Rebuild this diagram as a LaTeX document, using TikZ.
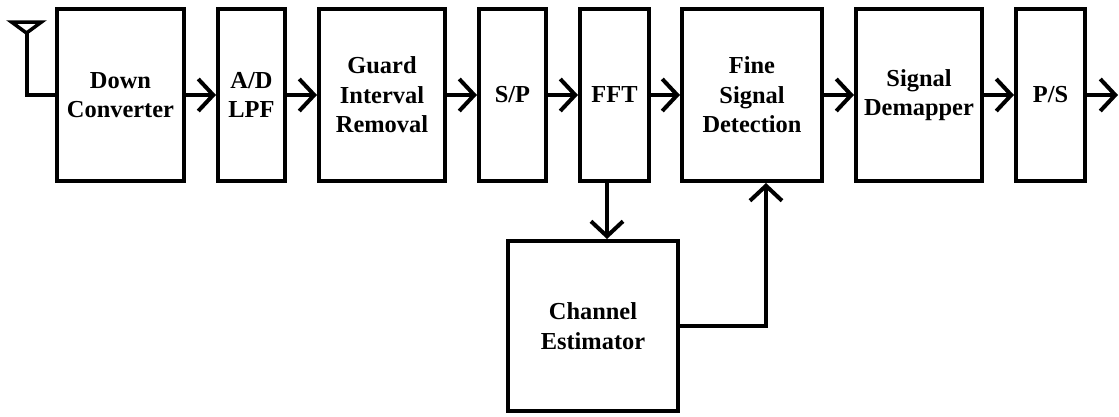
\documentclass[tikz,border=0pt]{standalone}
\usepackage{fontspec}
\setmainfont{Liberation Serif}
\usetikzlibrary{arrows.meta,calc}
\begin{document}
\begin{tikzpicture}[x=1bp,y=-1bp,
  blk/.style={draw,line width=4bp,inner sep=0pt,align=center,
    font=\fontsize{24.5}{29.5}\selectfont\bfseries,minimum height=172bp},
  arr/.style={line width=4bp,-{Straight Barb[length=15bp,width=32bp,line width=4bp]}},
  wire/.style={line width=4bp}]
\useasboundingbox (0,0) rectangle (1119,416);
% receiver chain
\node[blk,minimum width=127bp] (dc)  at (120.5,95) {Down\\Converter};
\node[blk,minimum width=67bp]  (adc) at (251.5,95) {A/D\\LPF};
\node[blk,minimum width=126bp] (gi)  at (382,95)   {Guard\\Interval\\Removal};
\node[blk,minimum width=67bp]  (sp)  at (512.5,95) {S/P};
\node[blk,minimum width=69bp]  (fft) at (614.5,95) {FFT};
\node[blk,minimum width=140bp] (fine) at (752,95)  {Fine\\Signal\\Detection};
\node[blk,minimum width=126bp] (dem) at (919,95)   {Signal\\Demapper};
\node[blk,minimum width=69bp]  (ps)  at (1050.5,95) {P/S};
\node[blk,minimum width=170bp,minimum height=170bp] (ce) at (593,326) {Channel\\Estimator};
% antenna
\coordinate (ant) at (26.5,33);
\draw[line width=3.5bp,line join=miter] (11.5,22) -- (41.5,22) -- (ant) -- cycle;
\draw[wire] (ant) |- (dc.west);
% forward links
\draw[arr] (dc.east) -- (adc.west);
\draw[arr] (adc.east) -- (gi.west);
\draw[arr] (gi.east) -- (sp.west);
\draw[arr] (sp.east) -- (fft.west);
\draw[arr] (fft.east) -- (fine.west);
\draw[arr] (fine.east) -- (dem.west);
\draw[arr] (dem.east) -- (ps.west);
\coordinate (out) at (1118,95);
\draw[arr] (ps.east) -- (out);
% channel estimation branch
\draw[arr] ([xshift=-7.5bp]fft.south) -- ([xshift=-7.5bp]fft.south |- ce.north);
\draw[arr] (ce.east) -| ([xshift=14bp]fine.south);
\end{tikzpicture}
\end{document}
